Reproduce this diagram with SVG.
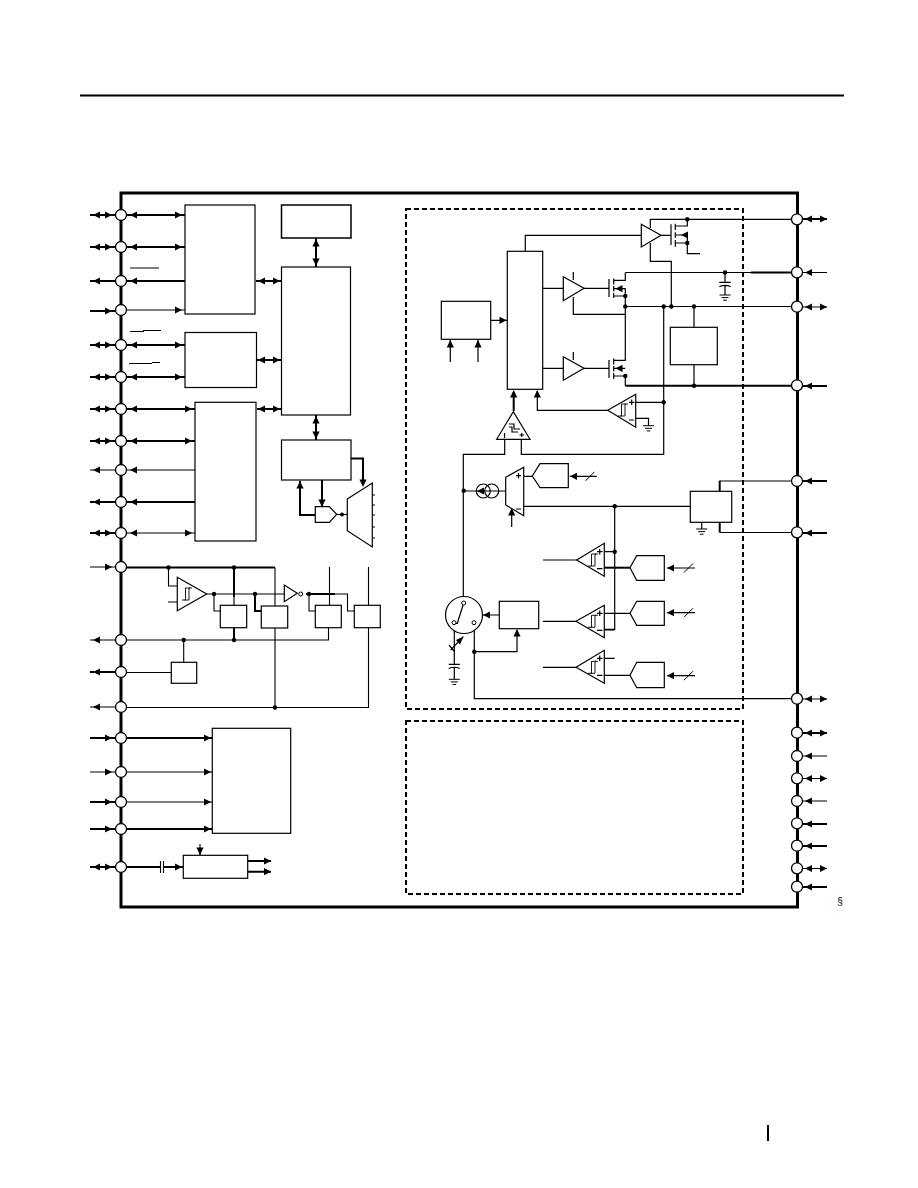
<svg xmlns="http://www.w3.org/2000/svg" width="918" height="1188" viewBox="0 0 918 1188">
<style>
.t{fill:none;stroke:#000;stroke-width:1.1}
.k{fill:none;stroke:#000;stroke-width:2}
.f{fill:none;stroke:#000;stroke-width:3}
.b{fill:#fff;stroke:#000;stroke-width:1.2}
.n{fill:none;stroke:#000;stroke-width:1.2}
.p{fill:#fff;stroke:#000;stroke-width:1.3}
.d{fill:none;stroke:#000;stroke-width:2;stroke-dasharray:5 3}
.l{fill:#fff;stroke:#000;stroke-width:1}
text{font-family:"Liberation Sans",Arial,sans-serif;fill:#000}
</style>
<defs>
<path id="al" d="M0 0L7 -3.6L7 3.6Z"/>
<path id="ar" d="M0 0L-7 -3.6L-7 3.6Z"/>
<path id="au" d="M0 0L-3.6 7.500L3.6 7.500Z"/>
<path id="ad" d="M0 0L-3.6 -7.500L3.6 -7.500Z"/>
<circle id="dot" r="2.200"/>
<path id="hy" d="M-5 6H-1.5V-6H3M-2.5 6H2V-6H5" fill="none" stroke="#000" stroke-width="0.9"/>
<path id="gnd" d="M-5.5 0H5.5M-3.5 2.6H3.5M-1.8 5.2H1.8" fill="none" stroke="#000" stroke-width="1"/>
<path id="slash" d="M0 4.5L9 -4.5" fill="none" stroke="#000" stroke-width="1"/>
</defs>

<g id="page">
<path d="M80 95.5H844" class="k"/>
<path d="M768 1125V1141" class="k"/>
</g>

<g id="connectors">
<path class="k" d="M90 215H115M127 215H185M90 247H115M127 247H185M90 281H115M127 281H185M90 311H115M90 345H115M127 345H185M90 377H115M127 377H185M90 409H115M127 409H195M90 441H115M127 441H195M90 502H115M127 502H195M90 533H115M90 672H115M90 738H115M127 738H212M127 829H212M90 802H115M90 829H115M90 867H115"/>
<path class="t" d="M127 310H185M90 470H115M127 470H195M127 533H195M90 567H115M90 640H115M90 707H115M90 772H115M127 772H212M127 802H212"/>
<path class="t" d="M130 268H159M130 331.500H144M143 330.500H161M129 363.500H152M152 362.500H160"/>
<g id="left-arrows">
<use href="#al" x="93" y="215"/><use href="#ar" x="112" y="215"/><use href="#al" x="130" y="215"/><use href="#ar" x="182" y="215"/>
<use href="#al" x="93" y="247"/><use href="#ar" x="112" y="247"/><use href="#al" x="130" y="247"/><use href="#ar" x="182" y="247"/>
<use href="#al" x="93" y="281"/><use href="#al" x="130" y="281"/>
<use href="#ar" x="112" y="311"/><use href="#ar" x="182" y="310"/>
<use href="#al" x="93" y="345"/><use href="#ar" x="112" y="345"/><use href="#al" x="130" y="345"/><use href="#ar" x="182" y="345"/>
<use href="#al" x="93" y="377"/><use href="#ar" x="112" y="377"/><use href="#al" x="130" y="377"/><use href="#ar" x="182" y="377"/>
<use href="#al" x="93" y="409"/><use href="#ar" x="112" y="409"/><use href="#al" x="130" y="409"/><use href="#ar" x="192" y="409"/>
<use href="#al" x="93" y="441"/><use href="#ar" x="112" y="441"/><use href="#al" x="130" y="441"/><use href="#ar" x="192" y="441"/>
<use href="#al" x="93" y="470"/><use href="#al" x="130" y="470"/>
<use href="#al" x="93" y="502"/><use href="#al" x="130" y="502"/>
<use href="#al" x="93" y="533"/><use href="#ar" x="112" y="533"/><use href="#al" x="130" y="533"/><use href="#ar" x="192" y="533"/>
<use href="#ar" x="112" y="567"/>
<use href="#al" x="93" y="640"/><use href="#al" x="93" y="672"/><use href="#al" x="93" y="707"/>
<use href="#ar" x="112" y="738"/><use href="#ar" x="211" y="738"/>
<use href="#ar" x="112" y="772"/><use href="#ar" x="211" y="772"/>
<use href="#ar" x="112" y="802"/><use href="#ar" x="211" y="802"/>
<use href="#ar" x="112" y="829"/><use href="#ar" x="211" y="829"/>
<use href="#al" x="93" y="867"/><use href="#ar" x="112" y="867"/><use href="#ar" x="182" y="867"/>
</g>
<path class="k" d="M256 281H281M257 360H281M257 409H281M316 238V267M316 415V440"/>
<use href="#al" x="258" y="281"/><use href="#ar" x="280" y="281"/>
<use href="#al" x="258" y="360"/><use href="#ar" x="280" y="360"/>
<use href="#al" x="258" y="409"/><use href="#ar" x="280" y="409"/>
<use href="#au" x="316" y="239"/><use href="#ad" x="316" y="266"/>
<use href="#au" x="316" y="416"/><use href="#ad" x="316" y="439"/>
<path class="k" d="M351 458.500H363V485M315 515H300V481M322 480V506"/>
<use href="#ad" x="363" y="487"/><use href="#au" x="300" y="481"/><use href="#ad" x="322" y="507"/>
<path class="t" d="M337 514.500H347"/><circle cx="342" cy="514.500" r="2"/>
<path class="t" d="M372.500 495H375M372.500 505H375M372.500 515H375M372.500 527H375M372.500 538H375"/>
<path class="k" d="M127 567.500H275M234 567.500V597M306 594H335M255 594V611H261M234 628V640"/>
<path class="t" d="M275 567.500V606M168.500 567.500V586H177M168 602H177M207 594H284M214 594V611H220M234 597V605M335 594H347.500V611H354M309 594V611H315M329.500 567V605M368.500 567V605M127 640H328.500V628M183.700 640V662M127 672.500H171M127 707.500H368.500V628M275 628V707.500"/>
<g fill="#000"><use href="#dot" x="168.500" y="567.500"/><use href="#dot" x="234" y="567.500"/><use href="#dot" x="214" y="594"/><use href="#dot" x="255" y="594"/><use href="#dot" x="309" y="594"/><use href="#dot" x="183.700" y="640"/><use href="#dot" x="234" y="640"/><use href="#dot" x="275" y="707.500"/></g>
<path class="k" d="M127 867H160M164 867H183M248 861H271M248 871.700H271"/>
<path class="t" d="M160.500 861V873M163.500 861V873M200 844V855"/>
<use href="#ad" x="200" y="855"/><use href="#ar" x="271" y="861"/><use href="#ar" x="271" y="871.700"/>

<path class="k" d="M803 219H827M803 733H827M803 824H827M803 846H827M803 887H827M803 481H827M803 533H827M803 386H827M751 272.500H791M625.300 385.700H791"/>
<path class="t" d="M803 272.500H827M803 307H827M803 699H827M803 756H827M803 778.500H827M803 801H827M803 868.500H827"/>
<use href="#al" x="805" y="219"/><use href="#ar" x="827" y="219"/>
<use href="#al" x="805" y="272.500"/>
<use href="#al" x="805" y="307"/><use href="#ar" x="827" y="307"/>
<use href="#al" x="805" y="386"/><use href="#al" x="805" y="481"/><use href="#al" x="805" y="533"/>
<use href="#al" x="805" y="699"/><use href="#ar" x="827" y="699"/>
<use href="#al" x="805" y="733"/><use href="#ar" x="827" y="733"/>
<use href="#al" x="805" y="756"/>
<use href="#al" x="805" y="778.500"/><use href="#ar" x="827" y="778.500"/>
<use href="#al" x="805" y="801"/><use href="#al" x="805" y="824"/><use href="#al" x="805" y="846"/>
<use href="#al" x="805" y="868.500"/><use href="#ar" x="827" y="868.500"/>
<use href="#al" x="805" y="887"/>

<path class="n" d="M792 219.300H650.300V228M525.300 251V235.300H641.300M650.300 243V261.300H671.300V306.500M661 235.300H671M625.300 272.500H751M625 306.500H792M694 306.500V327M694 365V385.700"/>
<path class="n" d="M675.300 226H687.300V219.300M675.300 243H687.300M675.300 235H687.300V253.700H700"/>
<path class="n" d="M671 224.300V245M675.300 223.700V230M675.300 232.300V237.700M675.300 240V246.700"/>
<use href="#al" x="681" y="235"/>
<path class="n" d="M725 272.500V282.300M719.300 282.300H730.700M719.300 286.700Q725 284 730.700 286.700M725 285.500V295"/>
<use href="#gnd" x="725" y="295"/>
<path class="n" d="M542.700 288.300H563.300M584 288.300H609M609 279V297M613.700 278.500V284.500M613.700 286V291.500M613.700 293V298M613.700 280.300H625.300V272.500M613.700 288.700H625.300M613.700 296H625.300M625.300 288V360.300H613.700M573.300 272V280M573.300 297V314.300H625.300"/>
<use href="#al" x="615.500" y="288.700"/>
<path class="n" d="M542.700 368.300H563.300M584 368.300H609M609 360V378M613.700 358.500V364.500M613.700 366V371.500M613.700 373V379M613.700 368.300H625.300M613.700 376H625.300V385.700M573.300 352V360"/>
<use href="#al" x="615.500" y="368.300"/>
<path class="n" d="M491 320.300H507M450.300 362V340M478 362V340"/>
<use href="#ar" x="506.500" y="320.300"/><use href="#au" x="450.300" y="340"/><use href="#au" x="478" y="340"/>
<path class="n" d="M663.700 306.500V454.300H521.300V439M504.700 439V454.300H463.300V597M635.700 402.300H663.700M635.700 418.300H648.500V425.700M607.700 410.300H537.300V391"/>
<path class="k" d="M513.700 411V392"/>
<use href="#au" x="513.700" y="390"/><use href="#au" x="537.300" y="390"/>
<use href="#gnd" x="648.500" y="425.700"/>
<g fill="#000"><use href="#dot" x="687.300" y="219.300"/><use href="#dot" x="687.300" y="243"/><use href="#dot" x="725" y="272.500"/><use href="#dot" x="625.300" y="296"/><use href="#dot" x="625.300" y="306.500"/><use href="#dot" x="663.700" y="306.500"/><use href="#dot" x="671.300" y="306.500"/><use href="#dot" x="694" y="306.500"/><use href="#dot" x="625.300" y="376"/><use href="#dot" x="694" y="385.700"/><use href="#dot" x="663.700" y="402.300"/></g>

<path class="n" d="M463.700 491H505.700M523.700 476.300H532.300M569.700 476.300H596.700M511.700 527V510M523.700 506.300H690.300M614.700 506.300V629.300H604.300M604.300 551.700H614.700"/>
<use href="#al" x="570" y="476.300"/><use href="#slash" x="585.500" y="476.300"/><use href="#au" x="511.700" y="508"/>
<path class="k" d="M719.700 491V480.700"/><path class="n" d="M719.700 481H791"/>
<path class="k" d="M719.700 522.300V532.500"/><path class="n" d="M719.700 532.500H791"/>
<path class="n" d="M701.700 522.300V529"/><use href="#gnd" x="701.700" y="529"/>
<path class="n" d="M543 560H576.700M543 621.300H576M543 667.300H576M604.300 613.300H630M604.300 630H614.700M604.300 658.300H614.700M604.300 675.300H630M667 568H695M667 612.700H695M667 675.700H695"/>
<path class="k" d="M604.300 567.700H630"/>
<use href="#al" x="667" y="568"/><use href="#al" x="667" y="612.700"/><use href="#al" x="667" y="675.700"/>
<use href="#slash" x="684" y="568"/><use href="#slash" x="684" y="612.700"/><use href="#slash" x="684" y="675.700"/>
<path class="n" d="M454.300 622.700V664M448.700 664.300H459.700M448.700 668.500Q454.300 666 459.700 668.500M454.300 667V679.300M474.300 622.700V698.700H791M474.300 651.700H517V630M482 615H499"/>
<use href="#gnd" x="454.300" y="679.300"/>
<use href="#au" x="517" y="629"/><use href="#al" x="483" y="615"/>
<path class="n" d="M463.300 636.700L450.700 650M449 645L454 651"/>
<path d="M463.500 636.500L456 640L460 644.500Z"/>
<g fill="#000"><use href="#dot" x="463.700" y="490.700"/><use href="#dot" x="614.700" y="506.300"/><use href="#dot" x="614.700" y="551.700"/><use href="#dot" x="474.300" y="651.700"/></g>
</g>

<g id="frame">
<path class="f" d="M121 193H797.500V907H121Z"/>
</g>
<g id="block-a"><rect class="b" x="185" y="205" width="70" height="109"/></g>
<g id="block-b"><rect class="b" x="185" y="332.500" width="71.500" height="55"/></g>
<g id="block-c"><rect class="b" x="195" y="402.300" width="61" height="138.700"/></g>
<g id="block-d"><rect class="b" x="281.500" y="205" width="69.500" height="33" style="stroke-width:1.500"/></g>
<g id="block-e"><rect class="b" x="281.500" y="267" width="69" height="148"/></g>
<g id="block-f"><rect class="b" x="281.500" y="440" width="69.500" height="40"/></g>
<g id="mux-a"><path class="b" d="M347.300 499L372.300 483V547L347.300 530.700Z"/></g>
<g id="gate-a"><path class="b" d="M315.300 506.700H329.300L336.700 514.300L329.300 522.300H315.300Z"/></g>
<g id="comp-clk"><path class="b" d="M177.300 577.300V610.700L206.700 594Z"/><use href="#hy" x="187" y="594"/></g>
<g id="inv-clk"><path class="b" d="M284.300 585V601.700L297.300 593.300Z"/><circle class="l" cx="300.700" cy="594" r="2"/></g>
<g id="block-g"><rect class="b" x="220.300" y="605.300" width="26.400" height="22.400"/></g>
<g id="block-h"><rect class="b" x="261.300" y="606" width="26.400" height="22"/></g>
<g id="block-i"><rect class="b" x="315.300" y="605.300" width="26" height="22.400"/></g>
<g id="block-j"><rect class="b" x="354.300" y="605.300" width="26" height="22.400"/></g>
<g id="block-k"><rect class="b" x="171.300" y="662.300" width="25.400" height="21"/></g>
<g id="block-l"><rect class="b" x="212.300" y="728.300" width="78.400" height="105"/></g>
<g id="block-m"><rect class="b" x="183.300" y="855.300" width="64.400" height="23"/></g>

<g id="region-power"><rect class="d" x="406" y="209" width="337" height="500"/></g>
<g id="region-lower"><rect class="d" x="406" y="721" width="337" height="173"/></g>

<g id="buf-top"><path class="b" d="M641.300 224.300V247L661 235.300Z"/></g>
<g id="buf-hi"><path class="b" d="M563.300 276.700V300.700L584 288.300Z"/></g>
<g id="buf-lo"><path class="b" d="M563.300 356.700V380.300L584 368.300Z"/></g>
<g id="block-n"><rect class="b" x="670.300" y="327.300" width="47" height="37.400"/></g>
<g id="block-o"><rect class="b" x="507.300" y="251.300" width="35.400" height="138"/></g>
<g id="block-p"><rect class="b" x="441.300" y="301.300" width="49.400" height="38"/></g>
<g id="comp-q"><path class="b" d="M607.700 410.300L635.700 394.300V427.300Z"/><use href="#hy" x="623" y="410"/><path class="n" d="M629 402.300H634.500M631.700 399.500V405M629 420H634"/></g>
<g id="tri-r"><path class="b" d="M513.300 411.700L496.700 439.300H530Z"/><path class="n" d="M509 424H514V429H520M509 427H512V432H518M504.500 433V438M519.500 435H524M521.700 433V437"/></g>
<g id="isrc"><circle class="n" cx="483.300" cy="491" r="7"/><circle class="n" cx="491.700" cy="491" r="7"/><use href="#al" x="477" y="491"/></g>
<g id="mux-b"><path class="b" d="M505.700 477.300L523.700 467.300V515.700L505.700 505Z"/><path class="n" d="M516 475.700H521M518.500 473V478.500M516 509H521"/></g>
<g id="dac-1"><path class="b" d="M532.300 476L540 463.700H568.300V487.700H540Z"/></g>
<g id="block-s"><rect class="b" x="690.300" y="491.300" width="41.400" height="31"/></g>
<g id="comp-1"><path class="b" d="M576.700 560L604.300 543.300V576.300Z"/><use href="#hy" x="593" y="560"/><path class="n" d="M597 551.700H602.500M599.700 549V554.500M597 568.700H602.500"/></g>
<g id="comp-2"><path class="b" d="M576 621.300L604.300 605.300V637.700Z"/><use href="#hy" x="593" y="621.300"/><path class="n" d="M597 613.300H602.500M599.700 610.500V616M597 630.300H602.500"/></g>
<g id="comp-3"><path class="b" d="M576 667.300L604.300 650.300V683.300Z"/><use href="#hy" x="593" y="667.300"/><path class="n" d="M597 658.300H602.500M599.700 655.500V661M597 675.300H602.500"/></g>
<g id="dac-2"><path class="b" d="M630 567.700L636.700 555.700H664.300V580.300H636.700Z"/></g>
<g id="dac-3"><path class="b" d="M630 613.300L636.700 601.300H664.300V625.300H636.700Z"/></g>
<g id="dac-4"><path class="b" d="M630 675.300L636.700 662.300H664.300V687.700H636.700Z"/></g>
<g id="block-t"><rect class="b" x="499.300" y="601.300" width="39.400" height="27.400"/></g>
<g id="switch"><circle class="b" cx="464" cy="615" r="18.500"/><path class="n" d="M463.700 603L457.300 623.300H454.300"/><circle class="l" cx="463.700" cy="603" r="2"/><circle class="l" cx="454" cy="622.700" r="2"/><circle class="l" cx="474" cy="622.700" r="2"/></g>

<g id="pins-left">
<circle class="p" cx="121" cy="215" r="5.500"/><circle class="p" cx="121" cy="247" r="5.500"/><circle class="p" cx="121" cy="281" r="5.500"/><circle class="p" cx="121" cy="310" r="5.500"/><circle class="p" cx="121" cy="345" r="5.500"/><circle class="p" cx="121" cy="377" r="5.500"/><circle class="p" cx="121" cy="409" r="5.500"/><circle class="p" cx="121" cy="441" r="5.500"/><circle class="p" cx="121" cy="470" r="5.500"/><circle class="p" cx="121" cy="502" r="5.500"/><circle class="p" cx="121" cy="533" r="5.500"/><circle class="p" cx="121" cy="567" r="5.500"/><circle class="p" cx="121" cy="640" r="5.500"/><circle class="p" cx="121" cy="672" r="5.500"/><circle class="p" cx="121" cy="707" r="5.500"/><circle class="p" cx="121" cy="738" r="5.500"/><circle class="p" cx="121" cy="772" r="5.500"/><circle class="p" cx="121" cy="802" r="5.500"/><circle class="p" cx="121" cy="829" r="5.500"/><circle class="p" cx="121" cy="867" r="5.500"/>
</g>
<g id="pins-right">
<circle class="p" cx="797" cy="219.300" r="5.500"/><circle class="p" cx="797" cy="272.300" r="5.500"/><circle class="p" cx="797" cy="306.700" r="5.500"/><circle class="p" cx="797" cy="385.300" r="5.500"/><circle class="p" cx="797" cy="481" r="5.500"/><circle class="p" cx="797" cy="532.300" r="5.500"/><circle class="p" cx="797" cy="698.700" r="5.500"/><circle class="p" cx="797" cy="732.700" r="5.500"/><circle class="p" cx="797" cy="756" r="5.500"/><circle class="p" cx="797" cy="778.300" r="5.500"/><circle class="p" cx="797" cy="801" r="5.500"/><circle class="p" cx="797" cy="823.300" r="5.500"/><circle class="p" cx="797" cy="845.700" r="5.500"/><circle class="p" cx="797" cy="868.300" r="5.500"/><circle class="p" cx="797" cy="886.700" r="5.500"/>
</g>
<text x="840" y="905" font-size="10" text-anchor="middle">§</text>
</svg>
